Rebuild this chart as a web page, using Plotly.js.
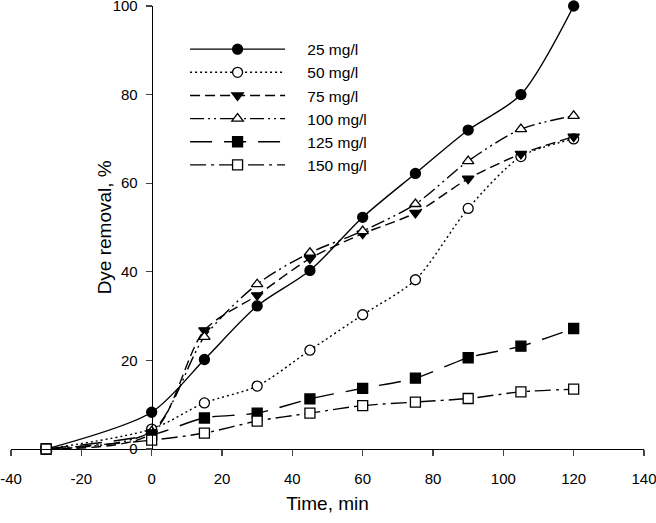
<!DOCTYPE html>
<html>
<head>
<meta charset="utf-8">
<script src="https://cdn.plot.ly/plotly-3.0.1.min.js"></script>
<style>html,body{margin:0;padding:0;background:#fff;}#chart{width:656px;height:523px;}</style>
</head>
<body>
<div id="chart"></div>
<script>
const time = [-30, 0, 15, 30, 45, 60, 75, 90, 105, 120];
const seriesNames = ["25 mg/l", "50 mg/l", "75 mg/l", "100 mg/l", "125 mg/l", "150 mg/l"];
const dye25  = [0, 8.3, 20.2, 32.3, 40.3, 52.3, 62.2, 72.0, 80.0, 100];
const dye50  = [0, 4.5, 10.4, 14.2, 22.3, 30.3, 38.2, 54.3, 66.0, 70.0];
const dye75  = [0, 3.5, 26.8, 34.7, 43.0, 48.6, 53.3, 61.0, 66.6, 70.5];
const dye100 = [0, 4.0, 25.3, 37.2, 44.3, 49.2, 55.3, 65.0, 72.2, 75.2];
const dye125 = [0, 3.2, 7.0, 8.1, 11.3, 13.7, 16.0, 20.6, 23.2, 27.2];
const dye150 = [0, 2.0, 3.6, 6.3, 8.1, 9.8, 10.6, 11.4, 12.9, 13.5];
const xTicks = [-40, -20, 0, 20, 40, 60, 80, 100, 120, 140];
const xTickLabels = ["-40", "-20", "0", "20", "40", "60", "80", "100", "120", "140"];
const yTicks = [0, 20, 40, 60, 80, 100];
const xTitle = "Time, min";
const yTitle = "Dye removal, %";

const styles = [
  {dash: "solid", symbol: "circle", fill: "#000"},
  {dash: "2px,3px", symbol: "circle", fill: "#fff"},
  {dash: "10px,5px", symbol: "triangle-down", fill: "#000"},
  {dash: "14px,4px,2px,4px,2px,4px", symbol: "triangle-up", fill: "#fff"},
  {dash: "22px,12px", symbol: "square", fill: "#000"},
  {dash: "16px,5px,3px,5px", symbol: "square", fill: "#fff"}
];
const allY = [dye25, dye50, dye75, dye100, dye125, dye150];
const pad = "\u00a0\u00a0\u00a0\u00a0";

const traces = allY.map((ys, i) => ({
  x: time, y: ys, name: pad + seriesNames[i], type: "scatter", mode: "lines+markers",
  cliponaxis: false,
  line: {color: "#000", width: 1.4, dash: styles[i].dash, shape: "spline", smoothing: 0.8},
  marker: {
    symbol: styles[i].symbol,
    size: 10,
    color: styles[i].fill,
    line: {color: "#000", width: 1.3}
  }
}));

const font = {family: "Arial, 'Liberation Sans', sans-serif", color: "#000"};
const layout = {
  width: 656, height: 523,
  margin: {l: 11, r: 12, t: 6, b: 74},
  paper_bgcolor: "#fff", plot_bgcolor: "#fff",
  font: Object.assign({size: 14}, font),
  showlegend: true,
  legend: {
    x: 0.275, y: 0.94, xanchor: "left", yanchor: "top",
    font: Object.assign({size: 15.5}, font),
    itemwidth: 95, tracegroupgap: 0, bgcolor: "rgba(0,0,0,0)"
  },
  xaxis: {
    range: [-40, 140], tickvals: xTicks, ticktext: xTickLabels, ticks: "outside", ticklen: 6, tickwidth: 1.3,
    ticklabeloverflow: "allow", ticklabelstandoff: 10,
    showline: true, linewidth: 1.3, linecolor: "#000", showgrid: false, zeroline: false,
    tickfont: Object.assign({size: 15}, font),
    title: {text: xTitle, font: Object.assign({size: 19}, font), standoff: 10}
  },
  yaxis: {
    range: [0, 100], tickvals: yTicks, ticks: "outside", ticklen: 6, tickwidth: 1.3,
    ticklabeloverflow: "allow", ticklabelstandoff: 5,
    anchor: "free", position: 40/180,
    showline: true, linewidth: 1.3, linecolor: "#000", showgrid: false, zeroline: false,
    tickfont: Object.assign({size: 15}, font)
  },
  annotations: [{
    text: yTitle, textangle: -90, showarrow: false,
    xref: "paper", yref: "paper", x: 0.1483, y: 0.5, xanchor: "center", yanchor: "middle",
    font: Object.assign({size: 19}, font)
  }]
};
Plotly.newPlot("chart", traces, layout, {displayModeBar: false, staticPlot: true});
</script>
</body>
</html>
